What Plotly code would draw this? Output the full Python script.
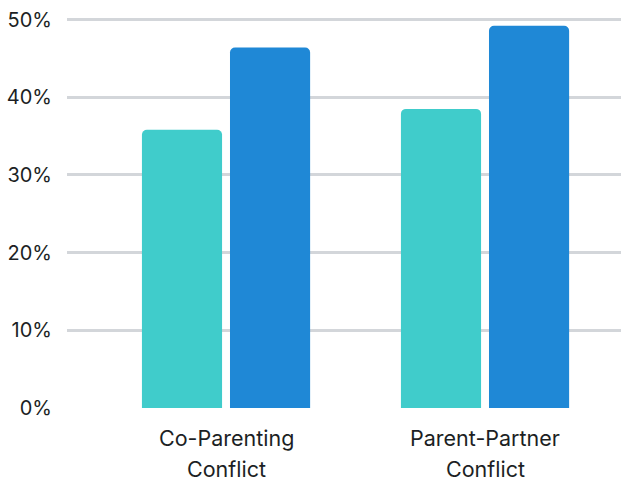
import plotly.graph_objects as go

categories = ["Co-Parenting Conflict", "Parent-Partner Conflict"]
label_line1 = ["Co-Parenting", "Parent-Partner"]
label_line2 = ["Conflict", "Conflict"]
series_a = [35.8, 38.5]
series_b = [46.4, 49.2]
y_ticks = [0, 10, 20, 30, 40, 50]
y_ticktext = ["0%", "10%", "20%", "30%", "40%", "50%"]

FONT = "Inter"
TEXT = "#1c1f24"

fig = go.Figure()
fig.add_trace(go.Bar(x=categories, y=series_a, marker=dict(color="#40cccb", cornerradius=5, line=dict(width=0)), showlegend=False))
fig.add_trace(go.Bar(x=categories, y=series_b, marker=dict(color="#1f88d6", cornerradius=5, line=dict(width=0)), showlegend=False))

for c, l1, l2 in zip(categories, label_line1, label_line2):
    fig.add_annotation(x=c, y=0, xref="x", yref="y", text=l1, showarrow=False,
                       yanchor="middle", yshift=-30, font=dict(family=FONT, size=21.5, color=TEXT))
    fig.add_annotation(x=c, y=0, xref="x", yref="y", text=l2, showarrow=False,
                       yanchor="middle", yshift=-61, font=dict(family=FONT, size=21.5, color=TEXT))

fig.update_layout(
    width=621, height=481,
    margin=dict(l=67, r=0, t=18, b=73),
    plot_bgcolor="white", paper_bgcolor="white",
    barmode="group", bargap=0.32, bargroupgap=0.09,
    font=dict(family=FONT, size=20, color=TEXT),
    xaxis=dict(type="category", range=[-0.614, 1.525], showticklabels=False,
               showgrid=False, zeroline=False, showline=False, ticks=""),
    yaxis=dict(range=[0, 50.2], tickvals=y_ticks, ticktext=y_ticktext,
               showgrid=True, gridcolor="#d3d6da", gridwidth=2.5, zeroline=False,
               showline=False, ticks="", ticklabelstandoff=14,
               tickfont=dict(family=FONT, size=20, color=TEXT)),
)

fig.write_html("out.html")
